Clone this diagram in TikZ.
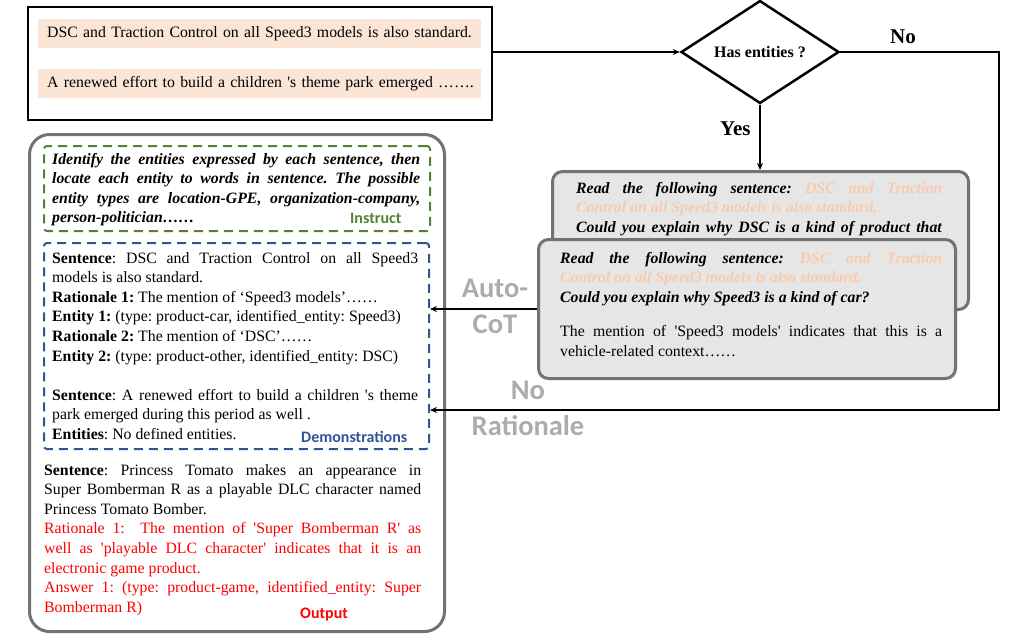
\documentclass[tikz,border=0pt]{standalone}
\usepackage{fontspec}
\setmainfont{Liberation Serif}
\newfontfamily\lblfont{Carlito}
\usetikzlibrary{arrows.meta,shapes.geometric}
\definecolor{peachfill}{HTML}{FBE5D6}
\definecolor{peachtext}{HTML}{F8CBAD}
\definecolor{boxgray}{HTML}{767171}
\definecolor{fillgray}{HTML}{E7E6E6}
\definecolor{lblgray}{HTML}{AFABAB}
\definecolor{instgreen}{HTML}{548235}
\definecolor{demoblue}{HTML}{2F5597}
\newcommand{\bi}[1]{\textbf{\textit{#1}}}
\newcommand{\lastjust}{\parfillskip=0pt\par}
\newcommand{\jbox}[2]{\begin{minipage}[t]{#1}\fontsize{15.8}{19.6}\selectfont\frenchspacing
  \tolerance=10000 \hyphenpenalty=10000 \rightskip=0pt \leftskip=0pt \parindent=0pt
  #2\end{minipage}}
\tikzset{
  maintext/.style={inner sep=0pt, anchor=base west},
  conn/.style={line width=2pt, -{Stealth[length=7pt,width=6pt]}},
  graybox/.style={draw=boxgray, fill=fillgray, line width=3pt, rounded corners=10pt, anchor=north west, inner sep=0pt},
  dashbox/.style={line width=2pt, dash pattern=on 9pt off 6pt, rounded corners=3pt, anchor=north west, inner sep=0pt},
  peachbar/.style={fill=peachfill, anchor=north west, minimum height=29pt, text width=443pt, inner xsep=0pt, inner ysep=0pt, align=left, font=\fontsize{15.8}{19.6}\selectfont\frenchspacing},
  biglabel/.style={font=\lblfont\bfseries\fontsize{28.5}{36}\selectfont, text=lblgray, align=center, inner sep=0pt, anchor=base},
  boxlabel/.style={font=\lblfont\bfseries\fontsize{16}{19}\selectfont, inner sep=0pt, anchor=base west},
}
\begin{document}
\begin{tikzpicture}[x=1pt,y=-1pt]
\useasboundingbox (0,0) rectangle (1021,641);

% input box
\node[draw=black, line width=1.5pt, anchor=north west, minimum width=464pt, minimum height=113pt, inner sep=0pt] (input) at (27,6) {};
\node[peachbar] (bar1) at (38,19) {\hspace*{9pt}DSC and Traction Control on all Speed3 models is also standard.};
\node[peachbar] (bar2) at (38,69) {\hspace*{9pt}A renewed effort to build a children \textquotesingle s theme park emerged …….};

% decision
\node[diamond, draw=black, line width=2.5pt, minimum width=158pt, minimum height=86pt, inner sep=0pt, font=\bfseries\fontsize{16}{19}\selectfont] (dec) at (760,52) {Has entities ?};

\coordinate (noc1) at (999,52);
\coordinate (noc2) at (999,410);

% left prompt box
\node[draw=boxgray, line width=3pt, rounded corners=20pt, anchor=north west, minimum width=415pt, minimum height=497pt, inner sep=0pt] (prompt) at (28,133) {};
\node[dashbox, draw=instgreen, minimum width=386pt, minimum height=85pt] (inst) at (43,145) {};
\node[dashbox, draw=demoblue, minimum width=385pt, minimum height=206pt] (demo) at (43,242) {};

% instruct text
\node[maintext] (insttext) at (52,164) {\jbox{368pt}{%
\bi{Identify the entities expressed by each sentence, then}\break
\bi{locate each entity to words in sentence. The possible}\break
\bi{entity types are location-GPE, organization-company,}\break
\bi{person-politician……}}};
\node[boxlabel, text=instgreen] (instlbl) at (350,223) {Instruct};

% demonstrations text
\node[maintext] (demotext) at (52,263) {\jbox{366pt}{%
\textbf{Sentence}: DSC and Traction Control on all Speed3\break
models is also standard.\\
\textbf{Rationale 1:} The mention of ‘Speed3 models’……\\
\textbf{Entity 1:} (type: product-car, identified\_entity: Speed3)\\
\textbf{Rationale 2:} The mention of ‘DSC’……\\
\textbf{Entity 2:} (type: product-other, identified\_entity: DSC)\\[19.6pt]
\textbf{Sentence}: A renewed effort to build a children \textquotesingle s theme\break
park emerged during this period as well .\\
\textbf{Entities}: No defined entities.}};
\node[boxlabel, text=demoblue] (demolbl) at (301,442) {Demonstrations};

% output text
\node[maintext] (outtext) at (44,475) {\jbox{377pt}{%
\textbf{Sentence}: Princess Tomato makes an appearance in\break
Super Bomberman R as a playable DLC character named\break
Princess Tomato Bomber.\\
\color{red}Rationale 1:\ \ The mention of \textquotesingle Super Bomberman R\textquotesingle\ as\break
well as \textquotesingle playable DLC character\textquotesingle\ indicates that it is an\break
electronic game product.\\
Answer 1: (type: product-game, identified\_entity: Super\break
Bomberman R)}};
\node[boxlabel, text=red] (outlbl) at (300,618) {Output};

% gray question boxes
\node[graybox, minimum width=416pt, minimum height=138pt] (q1) at (551,170) {};
\node[maintext] (q1text) at (576,193) {\jbox{366pt}{%
\bi{Read the following sentence:} \textcolor{peachtext}{\bi{DSC and Traction}}\break
\textcolor{peachtext}{\bi{Control on all Speed3 models is also standard.}}\\
\bi{Could you explain why DSC is a kind of product that}\lastjust}};
\node[graybox, minimum width=417pt, minimum height=139pt] (q2) at (537,238) {};
\node[maintext] (q2text) at (560,263) {\jbox{382pt}{%
\bi{Read the following sentence:} \textcolor{peachtext}{\bi{DSC and Traction}}\break
\textcolor{peachtext}{\bi{Control on all Speed3 models is also standard.}}\\
\bi{Could you explain why Speed3 is a kind of car?}\\[15pt]
The mention of \textquotesingle Speed3 models\textquotesingle\ indicates that this is a\break
vehicle-related context……}};

% labels
\node[biglabel] (autocot) at (495,333) {Auto-\\CoT};
\node[biglabel] (norat) at (528,435) {No\\Rationale};
\node[font=\bfseries\fontsize{21}{24}\selectfont, inner sep=0pt, anchor=base west] (nolbl) at (890,43) {No};
\node[font=\bfseries\fontsize{21}{24}\selectfont, inner sep=0pt, anchor=base west] (yeslbl) at (720,135) {Yes};

% connectors
\draw[conn] (input.east |- dec.west) -- (dec.west);
\draw[conn] (dec.south) -- (q1.north -| dec.south);
\draw[conn] (dec.east) -- (noc1) -- (noc2) -- (noc2 -| demo.east);
\draw[conn] (q2.west) -- (q2.west -| demo.east);
\end{tikzpicture}
\end{document}
